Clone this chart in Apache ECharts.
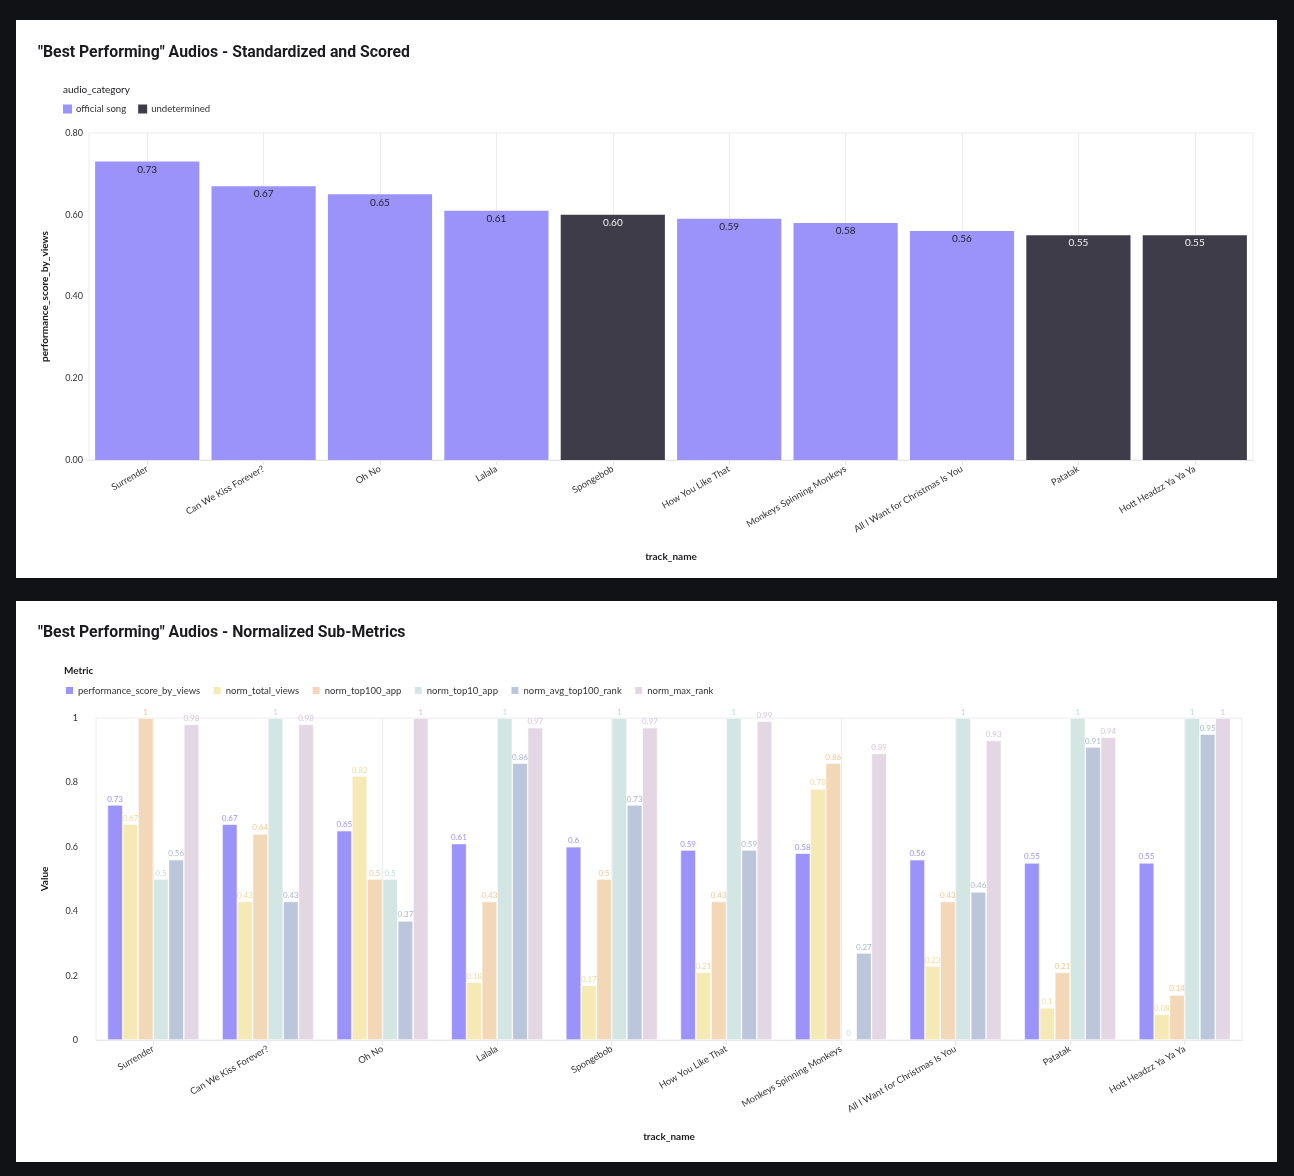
<!DOCTYPE html>
<html>
<head>
<meta charset="utf-8">
<script src="https://cdn.jsdelivr.net/npm/echarts@6/dist/echarts.min.js"></script>
<style>
  html, body { margin: 0; padding: 0; background: #111216; width: 1294px; height: 1176px; overflow: hidden; }
  .panel { position: absolute; left: 16px; width: 1261px; background: #ffffff; }
  #p1 { top: 20px; height: 558px; }
  #p2 { top: 601px; height: 561px; }
</style>
</head>
<body>
<div id="p1" class="panel"></div>
<div id="p2" class="panel"></div>
<script>
// ---------- DATA ----------
const tracks = ["Surrender", "Can We Kiss Forever?", "Oh No", "Lalala", "Spongebob", "How You Like That", "Monkeys Spinning Monkeys", "All I Want for Christmas Is You", "Patatak", "Hott Headzz Ya Ya Ya"];
const audioCategory = ["official song", "official song", "official song", "official song", "undetermined", "official song", "official song", "official song", "undetermined", "undetermined"];
const performanceScore = [0.73, 0.67, 0.65, 0.61, 0.60, 0.59, 0.58, 0.56, 0.55, 0.55];

const metricNames = ["performance_score_by_views", "norm_total_views", "norm_top100_app", "norm_top10_app", "norm_avg_top100_rank", "norm_max_rank"];
const normTotalViews = [0.67, 0.43, 0.82, 0.18, 0.17, 0.21, 0.78, 0.23, 0.1, 0.08];
const normTop100App = [1, 0.64, 0.5, 0.43, 0.5, 0.43, 0.86, 0.43, 0.21, 0.14];
const normTop10App = [0.5, 1, 0.5, 1, 1, 1, 0, 1, 1, 1];
const normAvgTop100Rank = [0.56, 0.43, 0.37, 0.86, 0.73, 0.59, 0.27, 0.46, 0.91, 0.95];
const normMaxRank = [0.98, 0.98, 1, 0.97, 0.97, 0.99, 0.89, 0.93, 0.94, 1];

const topTicks = [0, 0.2, 0.4, 0.6, 0.8];
const bottomTicks = [0, 0.2, 0.4, 0.6, 0.8, 1];

// ---------- STYLE ----------
const FONT = "Lato, 'Noto Sans', sans-serif";
const TITLE_FONT = "Roboto, 'Noto Sans', sans-serif";
const categoryColors = { "official song": "#9b93fa", "undetermined": "#3e3c48" };
const categoryLabelColors = { "official song": "#1e1e24", "undetermined": "#f2f2f2" };
const metricColors = ["#9b93fa", "#f5e9b6", "#f3d8b7", "#d4e6e3", "#bbc6da", "#e2d7e2"];
const metricLabelColors = ["#9b93fa", "#efdc9c", "#efc996", "#c2dad6", "#aab8cf", "#d4c6d5"];

// ---------- CHART 1 ----------
const categories = ["official song", "undetermined"];
const chart1 = echarts.init(document.getElementById('p1'), null, { renderer: 'canvas' });
chart1.setOption({
  animation: false,
  textStyle: { fontFamily: FONT },
  title: [
    { text: '"Best Performing" Audios - Standardized and Scored', left: 17, top: 20,
      textStyle: { fontFamily: TITLE_FONT, fontSize: 15.8, fontWeight: 'bold', color: '#1b1b1f' } },
    { text: 'audio_category', left: 42, top: 60,
      textStyle: { fontFamily: FONT, fontSize: 10, fontWeight: 'normal', color: '#1b1b1f' } }
  ],
  legend: {
    left: 42, top: 79, icon: 'rect', itemWidth: 9, itemHeight: 9, itemGap: 12,
    textStyle: { fontSize: 9.6, color: '#333', padding: [0, 0, 0, -1] },
    data: categories
  },
  grid: { left: 73, right: 24, top: 113, bottom: 118, show: true, borderColor: '#ececf1', borderWidth: 1 },
  xAxis: {
    type: 'category', data: tracks,
    name: 'track_name', nameLocation: 'middle', nameGap: 92,
    nameTextStyle: { fontSize: 10, fontWeight: 'bold', color: '#1b1b1f' },
    axisLine: { show: true, lineStyle: { color: '#e6e6ec' } },
    axisTick: { show: true, alignWithLabel: true, length: 5, lineStyle: { color: '#e6e6ec' } },
    splitLine: { show: true, alignWithLabel: true, lineStyle: { color: '#ececf1' } },
    axisLabel: { rotate: 30, fontSize: 9.3, color: '#333', margin: 8, interval: 0 }
  },
  yAxis: {
    type: 'value', min: 0, max: topTicks[topTicks.length - 1], interval: 0.2,
    name: 'performance_score_by_views', nameLocation: 'middle', nameGap: 39,
    nameTextStyle: { fontSize: 10, fontWeight: 'bold', color: '#1b1b1f' },
    axisLine: { show: false }, axisTick: { show: false },
    splitLine: { show: false },
    axisLabel: { fontSize: 9, color: '#333', margin: 6, formatter: v => v.toFixed(2) }
  },
  series: categories.map(cat => ({
    name: cat, type: 'bar', stack: 'score', barCategoryGap: '10.5%',
    itemStyle: { color: categoryColors[cat] },
    data: performanceScore.map((v, i) => audioCategory[i] === cat ? v : '-'),
    label: { show: true, position: 'insideTop', distance: 3, fontSize: 10, color: categoryLabelColors[cat],
      formatter: p => Number(p.value).toFixed(2) }
  }))
});

// ---------- CHART 2 ----------
const metricData = [performanceScore, normTotalViews, normTop100App, normTop10App, normAvgTop100Rank, normMaxRank];
const chart2 = echarts.init(document.getElementById('p2'), null, { renderer: 'canvas' });
chart2.setOption({
  animation: false,
  textStyle: { fontFamily: FONT },
  title: [
    { text: '"Best Performing" Audios - Normalized Sub-Metrics', left: 17, top: 19,
      textStyle: { fontFamily: TITLE_FONT, fontSize: 15.8, fontWeight: 'bold', color: '#1b1b1f' } },
    { text: 'Metric', left: 43, top: 60,
      textStyle: { fontFamily: FONT, fontSize: 10, fontWeight: 'bold', color: '#1b1b1f' } }
  ],
  legend: {
    left: 43, top: 79, icon: 'rect', itemWidth: 9, itemHeight: 9, itemGap: 11.5,
    textStyle: { fontSize: 9.5, color: '#333', padding: [0, 0, 0, -1] },
    data: metricNames
  },
  grid: { left: 80, right: 35, top: 117, bottom: 122, show: true, borderColor: '#ececf1', borderWidth: 1 },
  xAxis: {
    type: 'category', data: tracks,
    name: 'track_name', nameLocation: 'middle', nameGap: 92,
    nameTextStyle: { fontSize: 10, fontWeight: 'bold', color: '#1b1b1f' },
    axisLine: { show: true, lineStyle: { color: '#e6e6ec' } },
    axisTick: { show: true, alignWithLabel: true, length: 5, lineStyle: { color: '#e6e6ec' } },
    splitLine: { show: true, alignWithLabel: true, lineStyle: { color: '#ececf1' } },
    axisLabel: { rotate: 30, fontSize: 9.3, color: '#333', margin: 8, interval: 0 }
  },
  yAxis: {
    type: 'value', min: 0, max: bottomTicks[bottomTicks.length - 1], interval: 0.2,
    name: 'Value', nameLocation: 'middle', nameGap: 46,
    nameTextStyle: { fontSize: 10, fontWeight: 'bold', color: '#1b1b1f' },
    axisLine: { show: false }, axisTick: { show: false },
    splitLine: { show: false },
    axisLabel: { fontSize: 9, color: '#333', margin: 18 }
  },
  series: metricNames.map((m, k) => ({
    name: m, type: 'bar', barGap: '0%', barCategoryGap: '20%',
    itemStyle: { color: metricColors[k], borderColor: '#ffffff', borderWidth: 0.6 },
    data: metricData[k],
    label: { show: true, position: 'top', distance: 2, fontSize: 8, color: metricLabelColors[k] }
  }))
});
</script>
</body>
</html>
